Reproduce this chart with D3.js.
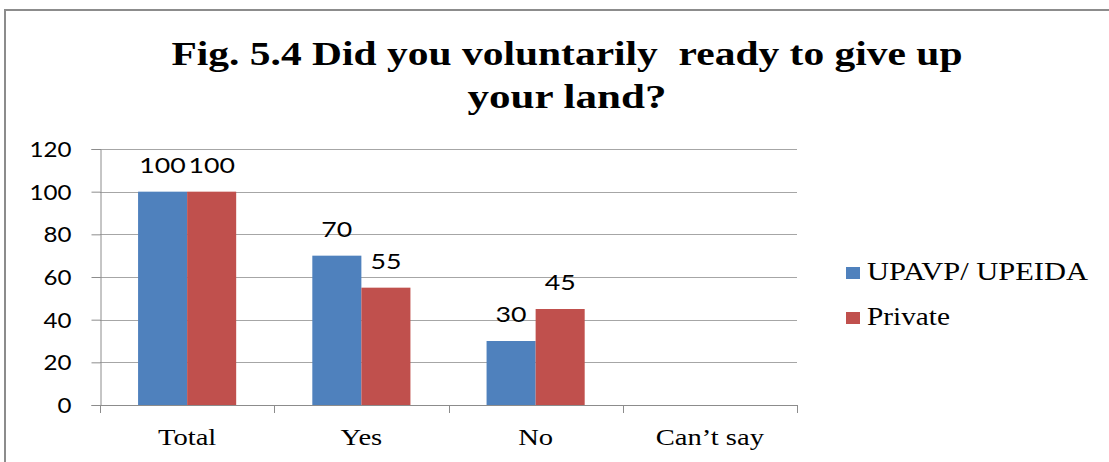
<!DOCTYPE html>
<html>
<head>
<meta charset="utf-8">
<script src="https://cdn.jsdelivr.net/npm/d3@7"></script>
<style>
  html, body { margin: 0; padding: 0; background: #fff; }
  svg { display: block; }
</style>
</head>
<body>
<svg id="chart" width="1109" height="462"></svg>
<script>
// ---- data ----
const categories = ["Total", "Yes", "No", "Can\u2019t say"];
const seriesNames = ["UPAVP/ UPEIDA", "Private"];
const upavpValues = [100, 70, 30, null];
const privateValues = [100, 55, 45, null];
const yTickValues = [0, 20, 40, 60, 80, 100, 120];
const titleLines = ["Fig. 5.4 Did you voluntarily  ready to give up", "your land?"];

const colors = ["#4F81BD", "#C0504D"];
const seriesValues = [upavpValues, privateValues];

const svg = d3.select("#chart");
const STRETCH = 1.19;
function stretch(sel, target) {
  sel.each(function() {
    const L = this.getComputedTextLength();
    const t = target != null ? target : L * STRETCH;
    this.setAttribute("textLength", t);
    this.setAttribute("lengthAdjust", "spacingAndGlyphs");
  });
  return sel;
}

// frame
svg.append("line").attr("x1", 5).attr("x2", 1109).attr("y1", 10).attr("y2", 10)
  .attr("stroke", "#8c8c8c").attr("stroke-width", 2);
svg.append("line").attr("x1", 5).attr("x2", 5).attr("y1", 9).attr("y2", 462)
  .attr("stroke", "#8c8c8c").attr("stroke-width", 2);

// title
const titleWidths = [791, 199];
const titleBaselines = [65, 108];
titleLines.forEach((t, i) => {
  svg.append("text").attr("x", 567).attr("y", titleBaselines[i])
    .attr("text-anchor", "middle")
    .style("white-space", "pre")
    .attr("font-family", "'Liberation Serif', 'Times New Roman', serif")
    .attr("font-weight", "bold").attr("font-size", 34).attr("fill", "#000")
    .text(t)
    .call(s => stretch(s, titleWidths[i]));
});

// scales
const x = d3.scaleBand().domain(categories).range([100, 797]).paddingInner(0).paddingOuter(0);
const xSub = d3.scaleBand().domain(seriesNames).range([0, x.bandwidth()]).paddingInner(0).paddingOuter(0.776);
const y = d3.scaleLinear().domain([0, 120]).range([405, 149]);

// gridlines
svg.append("g").selectAll("line").data(yTickValues.filter(v => v > 0)).join("line")
  .attr("x1", 100).attr("x2", 797)
  .attr("y1", d => Math.round(y(d)) + 0.5).attr("y2", d => Math.round(y(d)) + 0.5)
  .attr("stroke", "#a6a6a6").attr("stroke-width", 1);

// bars
const groups = svg.append("g").selectAll("g").data(seriesNames).join("g")
  .attr("fill", (d, i) => colors[i]);
groups.selectAll("rect")
  .data((s, si) => categories.map((c, ci) => ({ c, s, v: seriesValues[si][ci] })).filter(d => d.v != null))
  .join("rect")
  .attr("x", d => x(d.c) + xSub(d.s))
  .attr("width", xSub.bandwidth())
  .attr("y", d => y(d.v))
  .attr("height", d => y(0) - y(d.v));

// y axis
const yAxis = svg.append("g").attr("transform", "translate(100.5,0)")
  .call(d3.axisLeft(y).tickValues(yTickValues).tickSize(9).tickPadding(20).tickFormat(d3.format("d")));
yAxis.select(".domain").attr("stroke", "#8c8c8c");
yAxis.selectAll(".tick line").attr("stroke", "#8c8c8c");
yAxis.selectAll(".tick text")
  .attr("font-family", "Lato, 'Open Sans', sans-serif").attr("font-size", 21).attr("fill", "#000")
  .attr("dy", "0.36em")
  .each(function(d) { this.setAttribute("x", -29); })
  .call(s => s.each(function(d) {
    const n = String(d).length;
    this.setAttribute("textLength", n * 14);
    this.setAttribute("lengthAdjust", "spacingAndGlyphs");
  }));

// x axis
const xAxis = svg.append("g").attr("transform", "translate(0,405.5)")
  .call(d3.axisBottom(x).tickSize(0).tickPadding(30));
xAxis.select(".domain").attr("stroke", "#8c8c8c").attr("d", "M100,0H797");
xAxis.selectAll(".tick text")
  .attr("font-family", "'Liberation Serif', 'Times New Roman', serif")
  .attr("font-size", 24).attr("fill", "#000").attr("dy", 0).attr("y", 39.5)
  .call(s => stretch(s));
const boundaries = categories.map(c => x(c)).concat([x.range()[1]]);
svg.append("g").selectAll("line").data(boundaries).join("line")
  .attr("x1", d => Math.round(d) + 0.5).attr("x2", d => Math.round(d) + 0.5)
  .attr("y1", 405).attr("y2", 413).attr("stroke", "#8c8c8c");

// data labels
groups.selectAll("text.lbl")
  .data((s, si) => categories.map((c, ci) => ({ c, s, v: seriesValues[si][ci] })).filter(d => d.v != null))
  .join("text").attr("class", "lbl")
  .attr("x", d => x(d.c) + xSub(d.s) + xSub.bandwidth() / 2)
  .attr("y", d => y(d.v) - 19)
  .attr("text-anchor", "middle")
  .attr("font-family", "Lato, 'Open Sans', sans-serif").attr("font-size", 22).attr("fill", "#000")
  .text(d => d.v)
  .each(function(d) {
    this.setAttribute("textLength", String(d.v).length * 15.5);
    this.setAttribute("lengthAdjust", "spacingAndGlyphs");
  });

// legend
const legendTargets = [221, 83];
const legend = svg.append("g").selectAll("g").data(seriesNames).join("g")
  .attr("transform", (d, i) => `translate(846,${267 + i * 45})`);
legend.append("rect").attr("width", 14).attr("height", 12).attr("fill", (d, i) => colors[i]);
legend.append("text").attr("x", 21).attr("y", 13)
  .attr("font-family", "'Liberation Serif', 'Times New Roman', serif")
  .attr("font-size", 25).attr("fill", "#000")
  .text(d => d)
  .each(function(d, i) {
    this.setAttribute("textLength", legendTargets[i]);
    this.setAttribute("lengthAdjust", "spacingAndGlyphs");
  });
</script>
</body>
</html>
